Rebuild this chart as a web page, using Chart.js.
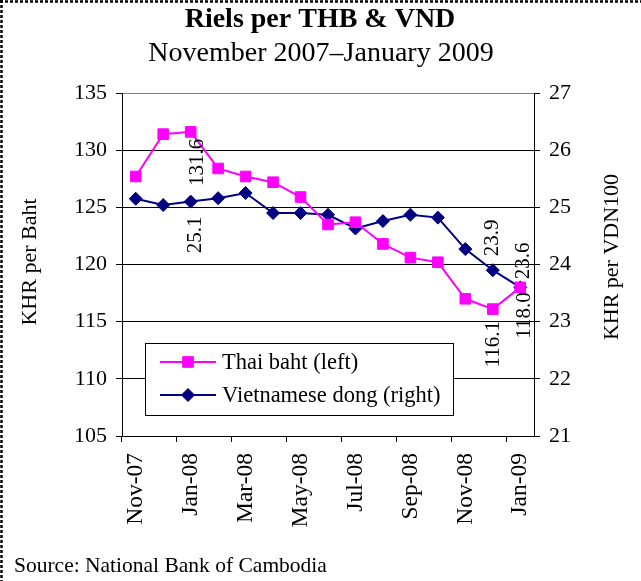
<!DOCTYPE html>
<html><head><meta charset="utf-8">
<script src="https://cdn.jsdelivr.net/npm/chart.js@4/dist/chart.umd.min.js"></script>
<style>html,body{margin:0;padding:0;background:#fff;} canvas{display:block;}</style>
</head><body>
<canvas id="c" width="641" height="581"></canvas>
<script>
// ---- data ----
const categories = ['Nov-07','Dec-07','Jan-08','Feb-08','Mar-08','Apr-08','May-08','Jun-08','Jul-08','Aug-08','Sep-08','Oct-08','Nov-08','Dec-08','Jan-09'];
const thaiBaht = [127.7,131.4,131.6,128.4,127.7,127.2,125.9,123.5,123.7,121.8,120.6,120.2,117.0,116.1,118.0];
const vietDong = [25.15,25.04,25.1,25.16,25.25,24.90,24.90,24.87,24.63,24.76,24.87,24.82,24.27,23.9,23.6];
const leftTicks = [105,110,115,120,125,130,135];
const rightTicks = [21,22,23,24,25,26,27];
const seriesNames = ['Thai baht (left)','Vietnamese dong (right)'];
const titleText = 'Riels per THB & VND';
const subtitleText = 'November 2007\u2013January 2009';
const leftTitle = 'KHR per Baht';
const rightTitle = 'KHR per VDN100';
const sourceText = 'Source: National Bank of Cambodia';
const labelledThai = [2,13,14];
const labelledDong = [2,13,14];

// ---- style ----
const SERIF = '"Liberation Serif", "Times New Roman", serif';
const PINK = '#FF00FF', NAVY = '#000080';
const labelPlacement = {
  '0-2':{side:'below',dx:7,gap:7},
  '0-13':{side:'below',dx:1,gap:12},
  '0-14':{side:'below',dx:4,gap:5},
  '1-2':{side:'below',dx:5,gap:15},
  '1-13':{side:'above',dx:0,gap:14},
  '1-14':{side:'above',dx:3,gap:8}
};

function drawMarker(ctx, style, x, y, r, color){
  ctx.save();
  ctx.fillStyle = color; ctx.strokeStyle = color; ctx.lineWidth = 1;
  ctx.beginPath();
  if (style === 'rect') {
    const s = Math.SQRT1_2 * r;
    ctx.rect(x - s, y - s, 2*s, 2*s);
  } else {
    ctx.moveTo(x - r, y); ctx.lineTo(x, y - r); ctx.lineTo(x + r, y); ctx.lineTo(x, y + r); ctx.closePath();
  }
  ctx.fill(); ctx.stroke();
  ctx.restore();
}

const decor = {
  id: 'decor',
  beforeDraw(chart){
    const ctx = chart.ctx;
    ctx.save(); ctx.fillStyle = '#fff'; ctx.fillRect(0,0,chart.width,chart.height); ctx.restore();
  },
  afterDatasetsDraw(chart){
    const ctx = chart.ctx;
    // legend
    ctx.save();
    ctx.fillStyle = '#fff'; ctx.strokeStyle = '#000'; ctx.lineWidth = 1;
    ctx.fillRect(145.5, 343.5, 308, 72);
    ctx.strokeRect(145.5, 343.5, 308, 72);
    const rows = [362, 395];
    chart.data.datasets.forEach((ds, k) => {
      const y = rows[k];
      ctx.strokeStyle = ds.borderColor; ctx.lineWidth = 2;
      ctx.beginPath(); ctx.moveTo(160, y); ctx.lineTo(216, y); ctx.stroke();
      drawMarker(ctx, ds.pointStyle, 188, y, ds.pointRadius, ds.borderColor);
      ctx.fillStyle = '#000'; ctx.font = '22.5px ' + SERIF;
      ctx.textAlign = 'left'; ctx.textBaseline = 'middle';
      ctx.fillText(ds.label, 222, y + 1);
    });
    ctx.restore();
    // data labels
    const sets = [labelledThai, labelledDong];
    ctx.save();
    ctx.fillStyle = '#000'; ctx.font = '21px ' + SERIF; ctx.textBaseline = 'middle';
    sets.forEach((idxs, d) => {
      const meta = chart.getDatasetMeta(d);
      idxs.forEach(i => {
        const pt = meta.data[i];
        const p = labelPlacement[d + '-' + i] || {side:'above',dx:0,gap:8};
        const val = chart.data.datasets[d].data[i];
        const txt = val.toFixed(1);
        ctx.save();
        if (p.side === 'below') {
          ctx.translate(pt.x + p.dx, pt.y + p.gap);
          ctx.rotate(-Math.PI/2);
          ctx.textAlign = 'right';
        } else {
          ctx.translate(pt.x + p.dx, pt.y - p.gap);
          ctx.rotate(-Math.PI/2);
          ctx.textAlign = 'left';
        }
        ctx.fillText(txt, 0, 0);
        ctx.restore();
      });
    });
    ctx.restore();
  },
  afterDraw(chart){
    const ctx = chart.ctx;
    ctx.save();
    ctx.fillStyle = '#000';
    ctx.textAlign = 'center'; ctx.textBaseline = 'alphabetic';
    ctx.font = 'bold 28px ' + SERIF;
    ctx.fillText(titleText, 320, 27);
    ctx.font = '28px ' + SERIF;
    ctx.fillText(subtitleText, 321, 61);
    // axis titles
    ctx.font = '22px ' + SERIF; ctx.textBaseline = 'middle';
    ctx.save(); ctx.translate(30, 262); ctx.rotate(-Math.PI/2); ctx.fillText(leftTitle, 0, 0); ctx.restore();
    ctx.save(); ctx.translate(612, 257); ctx.rotate(-Math.PI/2); ctx.fillText(rightTitle, 0, 0); ctx.restore();
    // source
    ctx.textAlign = 'left'; ctx.textBaseline = 'alphabetic';
    ctx.font = '21.5px ' + SERIF;
    ctx.fillText(sourceText, 14, 572);
    // dashed frame (top and left)
    ctx.strokeStyle = '#000'; ctx.lineWidth = 2.5; ctx.setLineDash([3,2]);
    ctx.beginPath(); ctx.moveTo(0, 1.5); ctx.lineTo(chart.width, 1.5); ctx.stroke();
    ctx.beginPath(); ctx.moveTo(1.5, 0); ctx.lineTo(1.5, chart.height); ctx.stroke();
    ctx.restore();
  }
};

const tickFont = {family: SERIF, size: 22};

new Chart(document.getElementById('c'), {
  type: 'line',
  data: {
    labels: categories,
    datasets: [
      {label: seriesNames[0], data: thaiBaht, yAxisID: 'yL', borderColor: PINK, backgroundColor: PINK,
       borderWidth: 2, pointStyle: 'rect', pointRadius: 7.5, pointBorderWidth: 1, pointBorderColor: PINK, pointBackgroundColor: PINK, tension: 0},
      {label: seriesNames[1], data: vietDong, yAxisID: 'yR', borderColor: NAVY, backgroundColor: NAVY,
       borderWidth: 2, pointStyle: 'rectRot', pointRadius: 6.5, pointBorderWidth: 1, pointBorderColor: NAVY, pointBackgroundColor: NAVY, tension: 0}
    ]
  },
  options: {
    responsive: false, animation: false, devicePixelRatio: 1,
    layout: {padding: {top: 93, left: 0, right: 0, bottom: 0}},
    plugins: {legend: {display: false}, title: {display: false}, tooltip: {enabled: false}},
    scales: {
      x: {
        type: 'category', offset: true,
        grid: {offset: true, drawOnChartArea: false, drawTicks: true, tickLength: 6, tickWidth: 1,
               tickColor: ctx => (ctx.index !== undefined && ctx.index % 2 === 0) ? '#000' : 'rgba(0,0,0,0)'},
        border: {display: true, color: '#000', width: 1},
        ticks: {autoSkip: false, maxRotation: 90, minRotation: 90, padding: 11, color: '#000', font: {family: SERIF, size: 23.5},
                callback: function(v, i){ return i % 2 === 0 ? this.getLabelForValue(v) : ''; }},
        afterFit: s => { s.height = 145; }
      },
      yL: {
        position: 'left', min: leftTicks[0], max: leftTicks[leftTicks.length-1],
        afterBuildTicks: s => { s.ticks = leftTicks.map(v => ({value: v})); },
        grid: {color: ctx => (ctx.tick && ctx.tick.value === 135) ? '#808080' : '#000', tickColor: '#000', tickLength: 6, lineWidth: 1},
        border: {display: true, color: '#000', width: 1},
        ticks: {padding: 9, color: '#000', font: tickFont},
        afterFit: s => { s.width = 122; }
      },
      yR: {
        position: 'right', min: rightTicks[0], max: rightTicks[rightTicks.length-1],
        afterBuildTicks: s => { s.ticks = rightTicks.map(v => ({value: v})); },
        grid: {drawOnChartArea: false, tickColor: '#000', tickLength: 6, lineWidth: 1},
        border: {display: true, color: '#000', width: 1},
        ticks: {padding: 9, color: '#000', font: tickFont},
        afterFit: s => { s.width = 107; }
      }
    }
  },
  plugins: [decor]
});
</script>
</body></html>
